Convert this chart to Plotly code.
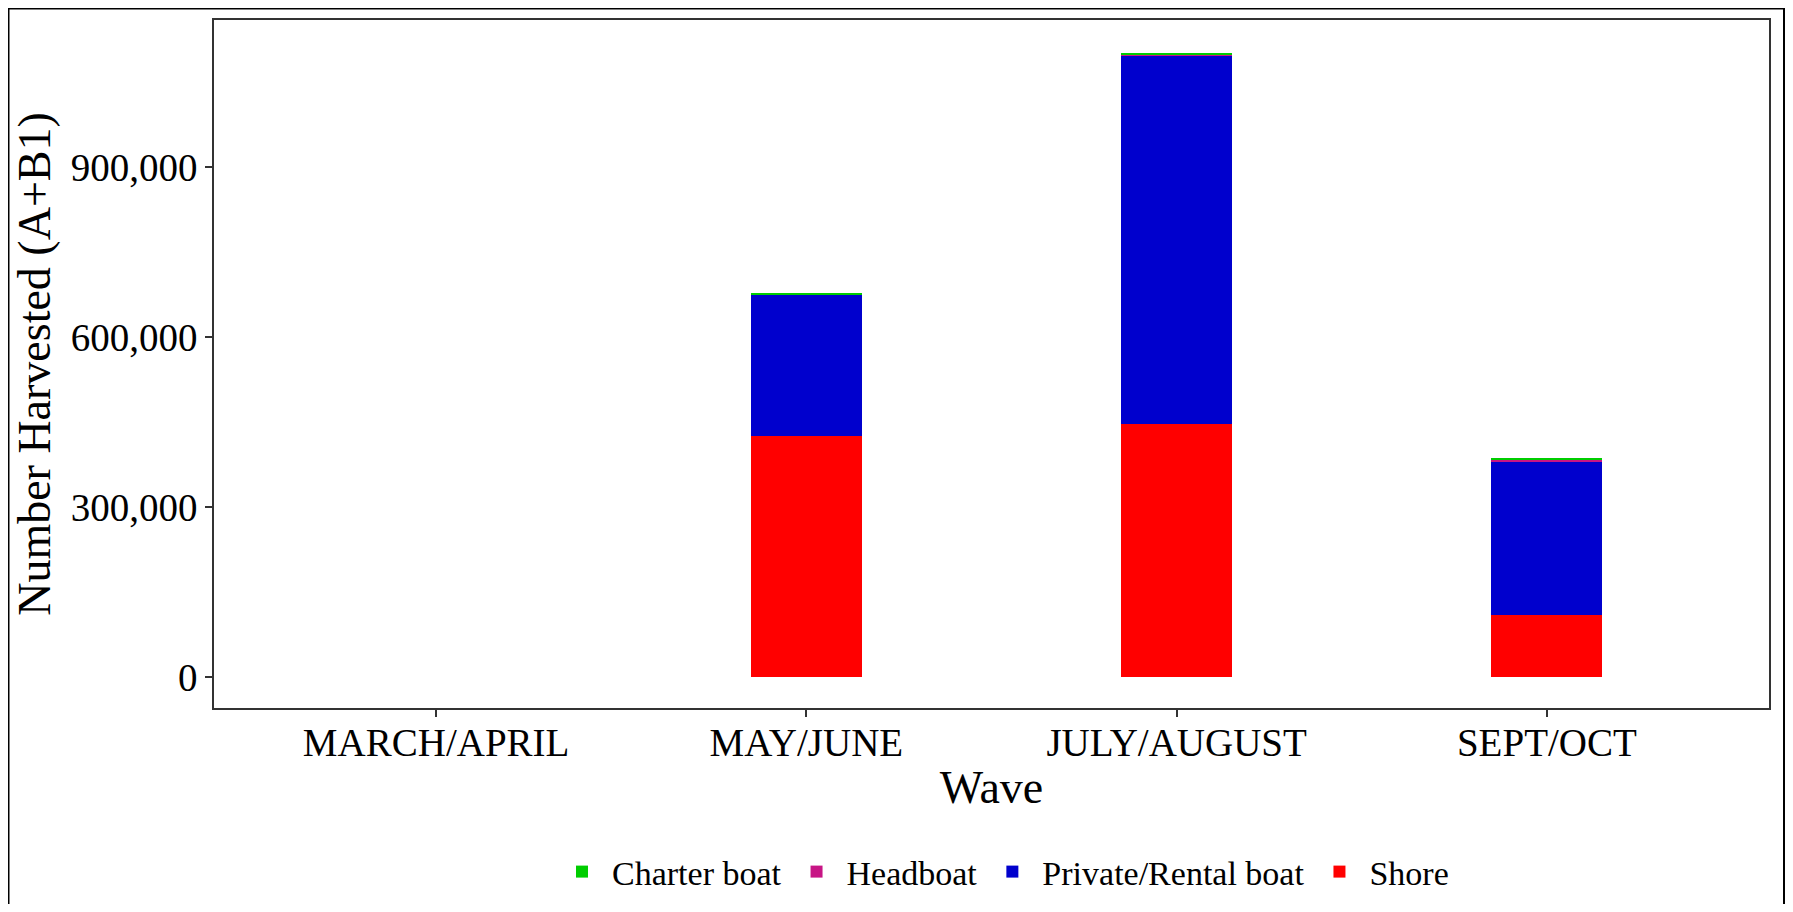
import plotly.graph_objects as go

waves = ["MARCH/APRIL", "MAY/JUNE", "JULY/AUGUST", "SEPT/OCT"]
shore = [None, 426000, 446000, 110000]
private_rental = [None, 249000, 651500, 270500]
headboat = [None, 0, 1500, 3500]
charter = [None, 3000, 3000, 2000]

series = [
    ("Shore", shore, "#FF0000"),
    ("Private/Rental boat", private_rental, "#0000CD"),
    ("Headboat", headboat, "#C71585"),
    ("Charter boat", charter, "#00CD00"),
]

FONT = "Liberation Serif, Times New Roman, serif"

fig = go.Figure()
for name, vals, color in series:
    fig.add_trace(go.Bar(
        x=waves, y=vals, name=name, width=0.3,
        marker=dict(color=color, line=dict(width=0)),
    ))

# page body has an 8px margin; work in figure coordinates
OFF = 8
W, H = 1793 - 2 * OFF, 912 - 2 * OFF
L, R, T, B = 214 - OFF, 1769 - OFF, 20 - OFF, 708 - OFF

fig.update_layout(
    width=W, height=H,
    barmode="stack",
    plot_bgcolor="white", paper_bgcolor="white",
    margin=dict(l=L, r=W - R, t=T, b=H - B, autoexpand=False),
    font=dict(family=FONT, color="black"),
    showlegend=True,
    legend=dict(
        orientation="h", traceorder="reversed",
        x=(1003 - OFF - L) / (R - L), xanchor="center",
        y=(B - (872 - OFF)) / (B - T), yanchor="middle",
        font=dict(size=34, family=FONT, color="black"),
        itemwidth=50,
    ),
    xaxis=dict(
        type="category", categoryorder="array", categoryarray=waves,
        range=[-0.6, 3.6],
        showline=True, mirror=True, linecolor="#333333", linewidth=1.5,
        ticks="outside", ticklen=7, tickcolor="#333333", tickwidth=1.5,
        ticklabelstandoff=-8,
        tickfont=dict(size=39, family=FONT, color="black"),
        title=dict(text="Wave", font=dict(size=46, family=FONT, color="black"), standoff=8),
        showgrid=False, zeroline=False,
    ),
    yaxis=dict(
        range=[-55000, 1160000],
        tickvals=[0, 300000, 600000, 900000],
        tickformat=",",
        showline=True, mirror=True, linecolor="#333333", linewidth=1.5,
        ticks="outside", ticklen=7, tickcolor="#333333", tickwidth=1.5,
        tickfont=dict(size=39, family=FONT, color="black"),
        title=dict(text="Number Harvested (A+B1)", font=dict(size=46, family=FONT, color="black"), standoff=6),
        showgrid=False, zeroline=False,
    ),
)

# outer black frame
fig.add_shape(
    type="rect", xref="paper", yref="paper",
    x0=(0.5 - L) / (R - L), x1=(1784 - OFF - L) / (R - L),
    y0=(B - 930) / (B - T), y1=(B - 0.5) / (B - T),
    line=dict(color="black", width=2), fillcolor="rgba(0,0,0,0)", layer="below",
)

fig.write_html("out.html")
